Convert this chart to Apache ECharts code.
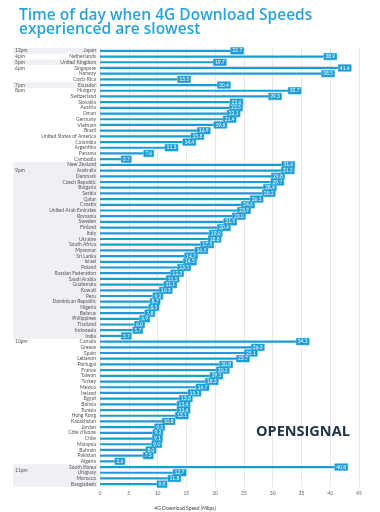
<!DOCTYPE html>
<html><head><meta charset="utf-8">
<script src="https://cdn.jsdelivr.net/npm/echarts@6/dist/echarts.min.js"></script>
<style>html,body{margin:0;padding:0;background:#fff}#c{width:380px;height:512px}</style>
</head><body><div id="c"></div>
<script>
const categories = ["Japan","Netherlands","United Kingdom","Singapore","Norway","Costa Rica","Ecuador",
"Hungary","Switzerland","Slovakia","Austria","Oman","Germany","Vietnam","Brazil","United States of America","Colombia","Argentina","Panama","Cambodia",
"New Zealand","Australia","Denmark","Czech Republic","Bulgaria","Serbia","Qatar","Croatia","United Arab Emirates","Romania","Sweden","Finland","Italy","Ukraine","South Africa","Myanmar","Sri Lanka","Israel","Poland","Russian Federation","Saudi Arabia","Guatemala","Kuwait","Peru","Dominican Republic","Nigeria","Belarus","Philippines","Thailand","Indonesia","India",
"Canada","Greece","Spain","Lebanon","Portugal","France","Taiwan","Turkey","Mexico","Ireland","Egypt","Bolivia","Tunisia","Hong Kong","Kazakhstan","Jordan","Côte d'Ivoire","Chile","Malaysia","Bahrain","Pakistan","Algeria",
"South Korea","Uruguay","Morocco","Bangladesh"];
const speeds = [22.7,38.9,19.7,41.4,38.5,13.5,20.4,
32.7,29.3,22.6,22.5,22.1,21.4,19.8,16.9,15.8,14.4,11.3,7.6,3.7,
31.6,31.5,29.8,29.7,28.4,28.2,26.1,24.6,23.9,23.0,21.5,20.4,19.0,18.8,17.5,16.5,14.7,14.5,13.5,12.3,11.5,11.1,10.3,9.2,8.7,8.5,7.8,6.9,6.0,5.7,3.7,
34.1,26.3,25.1,23.7,20.8,20.2,19.1,18.3,16.7,15.3,13.8,13.4,13.4,13.1,10.8,9.5,9.2,9.1,9.0,8.0,7.5,2.6,
40.8,12.7,11.8,9.9];
const timeSlots = ["12pm","4pm","5pm","6pm","7pm","8pm","9pm","10pm","11pm"];
const groupSizes = [1,1,1,3,1,13,31,22,4];
const xTicks = [0,5,10,15,20,25,30,35,40,45];

const BLUE = '#1c9cd4';
const chart = echarts.init(document.getElementById('c'));
chart.setOption({
  animation:false,
  title:{text:'Time of day when 4G Download Speeds\nexperienced are slowest',left:14,top:3,
    textStyle:{fontFamily:'Open Sans',fontSize:15.5,fontWeight:600,lineHeight:14.5,color:'#2aa3d8'}},
  grid:{left:100,right:21,top:48,bottom:25},
  xAxis:{type:'value',min:xTicks[0],max:xTicks[xTicks.length-1],interval:xTicks[1]-xTicks[0],
    axisLine:{show:false},axisTick:{show:false},
    splitLine:{lineStyle:{color:'#e8e8e8',width:1}},
    axisLabel:{fontSize:5,color:'#666',margin:4,fontFamily:'Lato'}},
  yAxis:{type:'category',inverse:true,data:categories,
    axisLine:{show:false},axisTick:{show:false},
    axisLabel:{interval:0,fontSize:5,color:'#555',margin:4,fontFamily:'Lato'}},
  series:[{type:'bar',data:speeds,barWidth:2.2,itemStyle:{color:BLUE},z:3,
    label:{show:true,position:'right',distance:0,formatter:p=>p.value.toFixed(1),
      color:'#fff',fontSize:5,fontFamily:'Lato',backgroundColor:BLUE,padding:[1,1.5,0.5,1.5],
      borderColor:'#7cc8ea',borderWidth:0.5}}]
});

// bands and time-slot labels positioned via the axis scale
const y0 = chart.convertToPixel({yAxisIndex:0}, 0);
const y1 = chart.convertToPixel({yAxisIndex:0}, 1);
const rowH = y1 - y0;
const labelShift = [0,0,0,0,0,0,1,0,0.5];
const graphics = [];
let start = 0;
groupSizes.forEach((n,g)=>{
  const ys = chart.convertToPixel({yAxisIndex:0}, start);
  const ye = chart.convertToPixel({yAxisIndex:0}, start+n-1);
  if (g % 2 === 0) {
    graphics.push({type:'rect',z:-10,shape:{x:13,y:ys-rowH/2,width:85,height:ye-ys+rowH},
      style:{fill:'#eef0f3'}});
  }
  graphics.push({type:'text',z:10,x:15,y:ys+labelShift[g]*rowH,
    style:{text:timeSlots[g],fontSize:5,fontFamily:'Lato',fill:'#555',verticalAlign:'middle'}});
  start += n;
});
graphics.push({type:'text',x:185,y:508,style:{text:'4G Download Speed (Mbps)',fontSize:5,fontFamily:'Lato',fill:'#444',align:'center',verticalAlign:'middle'}});
graphics.push({type:'text',x:256,y:432,style:{text:'OPENSIGNAL',fontSize:14.5,fontWeight:'bold',fontFamily:'Open Sans',fill:'#1f3349',verticalAlign:'middle'}});
chart.setOption({graphic:graphics});
</script></body></html>
